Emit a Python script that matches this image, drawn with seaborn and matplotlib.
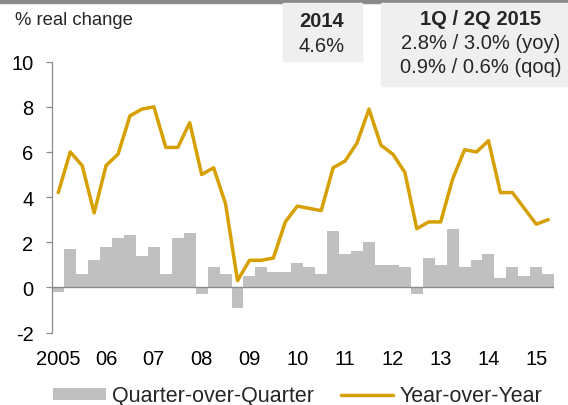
import matplotlib
matplotlib.use("Agg")
import matplotlib.pyplot as plt
import seaborn as sns
import pandas as pd
from matplotlib.patches import Rectangle, Patch
from matplotlib.lines import Line2D

# --- Data ---
quarters = [f"{y}Q{q}" for y in range(2005, 2016) for q in (1, 2, 3, 4)][:42]
qoq = [-0.2, 1.7, 0.6, 1.2,
       1.8, 2.2, 2.3, 1.4,
       1.8, 0.6, 2.2, 2.4,
       -0.3, 0.9, 0.6, -0.9,
       0.5, 0.9, 0.7, 0.7,
       1.1, 0.9, 0.6, 2.5,
       1.5, 1.6, 2.0, 1.0,
       1.0, 0.9, -0.3, 1.3,
       1.0, 2.6, 0.9, 1.2,
       1.5, 0.4, 0.9, 0.5,
       0.9, 0.6]
yoy = [4.2, 6.0, 5.4, 3.3,
       5.4, 5.9, 7.6, 7.9,
       8.0, 6.2, 6.2, 7.3,
       5.0, 5.3, 3.7, 0.3,
       1.2, 1.2, 1.3, 2.9,
       3.6, 3.5, 3.4, 5.3,
       5.6, 6.4, 7.9, 6.3,
       5.9, 5.1, 2.6, 2.9,
       2.9, 4.8, 6.1, 6.0,
       6.5, 4.2, 4.2, 3.5,
       2.8, 3.0]
year_labels = ['2005', '06', '07', '08', '09', '10', '11', '12', '13', '14', '15']
y_ticks = [-2, 0, 2, 4, 6, 8, 10]

BAR = '#c0c0c0'
GOLD = '#d6a100'
GREY = '#8c8c8c'

sns.set_theme(style="white")
plt.rcParams['font.family'] = ['Liberation Sans', 'DejaVu Sans']

df = pd.DataFrame({'quarter': quarters, 'qoq': qoq, 'yoy': yoy})
df['pos'] = range(len(df))

W, H = 568, 406
fig = plt.figure(figsize=(W / 100, H / 100), dpi=100)
ax = fig.add_axes([52.3 / W, 1 - 333.5 / H, (554.2 - 52.3) / W, (333.5 - 62.7) / H])

# bars = quarter-over-quarter, line = year-over-year
sns.barplot(data=df, x='quarter', y='qoq', color=BAR, saturation=1, width=1,
            linewidth=0, errorbar=None, ax=ax)
ax.axhline(0, color='#8a8a8a', lw=1.0, zorder=2)
sns.lineplot(data=df, x='pos', y='yoy', color=GOLD, lw=2.5, ax=ax, zorder=3)

ax.set_xlim(-0.5, 41.5)
ax.set_ylim(-2, 10)
ax.set_yticks(y_ticks)
ax.set_yticklabels([str(t) for t in y_ticks])
ax.set_xticks(range(0, 42, 4))
ax.set_xticklabels(year_labels)
ax.set_xlabel('')
ax.set_ylabel('')
ax.tick_params(axis='x', length=0, pad=12, labelsize=14.5, labelcolor='black')
ax.tick_params(axis='y', left=True, length=4.5, width=0.9, color=GREY, pad=9,
               labelsize=14.5, labelcolor='black', direction='out')
for s in ('top', 'right', 'bottom'):
    ax.spines[s].set_visible(False)
ax.spines['left'].set_color(GREY)
ax.spines['left'].set_linewidth(0.9)

# --- Header band and info boxes ---
fig.patches.append(Rectangle((0, 1 - 4 / H), 1, 4 / H, transform=fig.transFigure,
                             color='#8a8a8a', zorder=0))
fig.patches.append(Rectangle((283 / W, 1 - 62 / H), 79 / W, 58 / H, transform=fig.transFigure,
                             color='#efefef', zorder=0))
fig.patches.append(Rectangle((381 / W, 1 - 87 / H), 187 / W, 83 / H, transform=fig.transFigure,
                             color='#efefef', zorder=0))

fig.text(15 / W, 1 - 25 / H, '% real change', fontsize=13.3, va='baseline', ha='left')
fig.text(322 / W, 1 - 27 / H, '2014', fontsize=14.5, fontweight='bold', ha='center', va='baseline')
fig.text(322 / W, 1 - 52 / H, '4.6%', fontsize=14.5, ha='center', va='baseline')
fig.text(481 / W, 1 - 25 / H, '1Q / 2Q 2015', fontsize=14.5, fontweight='bold', ha='center', va='baseline')
fig.text(481 / W, 1 - 49 / H, '2.8% / 3.0% (yoy)', fontsize=14.5, ha='center', va='baseline')
fig.text(481 / W, 1 - 73 / H, '0.9% / 0.6% (qoq)', fontsize=14.5, ha='center', va='baseline')

# --- Legend ---
handles = [Patch(facecolor=BAR, edgecolor='none', label='Quarter-over-Quarter'),
           Line2D([], [], color=GOLD, lw=2.5, label='Year-over-Year')]
fig.legend(handles=handles, loc='center left', bbox_to_anchor=(53 / W, 1 - 397 / H),
           ncol=2, frameon=False, fontsize=15.5, handlelength=2.45, handleheight=0.45,
           handletextpad=0.28, columnspacing=1.25, borderpad=0, borderaxespad=0)

fig.savefig('out.png', dpi=100)
